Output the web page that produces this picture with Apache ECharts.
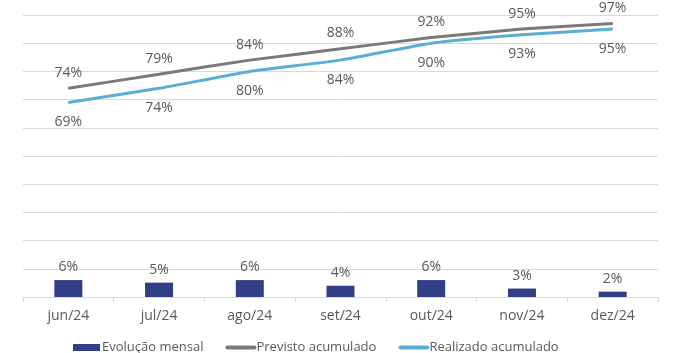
<!DOCTYPE html>
<html>
<head>
<meta charset="utf-8">
<script src="https://cdn.jsdelivr.net/npm/echarts@6/dist/echarts.min.js"></script>
<style>
  html, body { margin: 0; padding: 0; background: #fff; }
  #myChart { width: 698px; height: 353px; }
</style>
</head>
<body>
<div id="myChart"></div>
<script>
// categorias (meses)
var months = ['jun/24', 'jul/24', 'ago/24', 'set/24', 'out/24', 'nov/24', 'dez/24'];
// evolução mensal (barras)
var mensal = [0.06, 0.051, 0.06, 0.04, 0.06, 0.03, 0.019];
// previsto acumulado
var previsto = [0.74, 0.79, 0.84, 0.88, 0.92, 0.95, 0.97];
// realizado acumulado
var realizado = [0.69, 0.74, 0.80, 0.84, 0.90, 0.93, 0.95];

var FONT = '"Open Sans", sans-serif';
var TXT = '#595959';

function pct(p) {
    return Math.round(p.value * 100) + '%';
}

var myChart = echarts.init(document.getElementById('myChart'));

var option = {
    animation: false,
    textStyle: { fontFamily: FONT },
    grid: { left: 23, right: 40, top: 15, bottom: 56 },
    legend: {
        left: 68,
        top: 336,
        itemWidth: 27,
        itemHeight: 7,
        itemGap: 22,
        textStyle: { color: TXT, fontSize: 13, fontFamily: FONT, padding: [0, 0, 0, -3] },
        data: [
            { name: 'Evolução mensal', icon: 'rect' },
            { name: 'Previsto acumulado', itemStyle: { opacity: 0 }, lineStyle: { width: 4, cap: 'round' } },
            { name: 'Realizado acumulado', itemStyle: { opacity: 0 }, lineStyle: { width: 4, cap: 'round' } }
        ]
    },
    xAxis: {
        type: 'category',
        data: months,
        axisLine: { lineStyle: { color: '#d9d9d9' } },
        axisTick: { show: true, length: 5, lineStyle: { color: '#d9d9d9' } },
        axisLabel: { color: TXT, fontSize: 14, margin: 12, fontFamily: FONT }
    },
    yAxis: {
        type: 'value',
        min: 0,
        max: 1,
        interval: 0.1,
        axisLabel: { show: false },
        axisLine: { show: false },
        axisTick: { show: false },
        splitLine: { lineStyle: { color: '#d9d9d9', width: 1 } }
    },
    series: [
        {
            name: 'Evolução mensal',
            type: 'bar',
            data: mensal,
            barWidth: 28,
            itemStyle: { color: '#323e85' },
            label: {
                show: true,
                position: 'top',
                distance: 6,
                color: TXT,
                fontSize: 14,
                fontFamily: FONT,
                formatter: pct
            }
        },
        {
            name: 'Previsto acumulado',
            type: 'line',
            data: previsto,
            smooth: 0.15,
            symbol: 'circle',
            symbolSize: 1,
            lineStyle: { color: '#7a7a7a', width: 3 },
            itemStyle: { color: '#7a7a7a' },
            label: {
                show: true,
                position: 'top',
                distance: 8,
                color: TXT,
                fontSize: 14,
                fontFamily: FONT,
                formatter: pct
            }
        },
        {
            name: 'Realizado acumulado',
            type: 'line',
            data: realizado,
            smooth: 0.15,
            symbol: 'circle',
            symbolSize: 1,
            lineStyle: { color: '#5aaed3', width: 3 },
            itemStyle: { color: '#5aaed3' },
            label: {
                show: true,
                position: 'bottom',
                distance: 12,
                color: TXT,
                fontSize: 14,
                fontFamily: FONT,
                formatter: pct
            }
        }
    ]
};

myChart.setOption(option);
</script>
</body>
</html>
